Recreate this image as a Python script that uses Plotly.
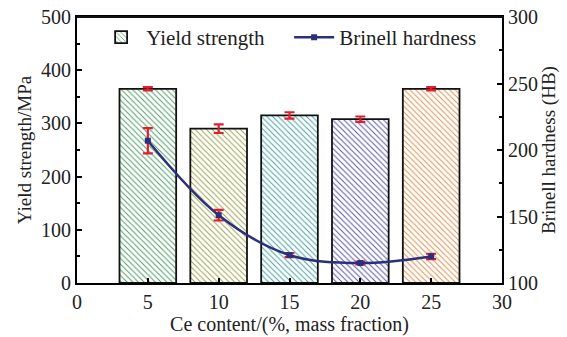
import plotly.graph_objects as go

ce = [5, 10, 15, 20, 25]
yield_strength = [365, 290, 315, 308, 365]
yield_err = [3, 8, 6, 5, 3]
hardness = [207, 151, 121, 115, 120]
hardness_err = [9.5, 4, 1.5, 1, 2]
bar_colors = ["#4f9f63", "#9ea34e", "#45a2a4", "#5656ad", "#e0914f"]

FONT = "Liberation Serif"

fig = go.Figure()
fig.add_trace(go.Bar(
    x=ce, y=yield_strength, width=4, name="Yield strength",
    marker=dict(color="white", line=dict(color="#111", width=1.8),
                pattern=dict(shape="\\", fgcolor=bar_colors, bgcolor="white",
                             size=4, solidity=0.25)),
    error_y=dict(type="data", array=yield_err, color="#e0202c", thickness=2.2, width=5),
))
fig.add_trace(go.Scatter(
    x=ce, y=hardness, yaxis="y2", name="Brinell hardness", mode="lines+markers",
    line=dict(color="#2b2f7c", width=2.5, shape="spline"),
    marker=dict(symbol="square", size=6, color="#2b2f7c"),
    error_y=dict(type="data", array=hardness_err, color="#e0202c", thickness=2.2, width=5),
))

axis_common = dict(showline=True, linecolor="black", linewidth=2, ticks="inside",
                   ticklen=5, tickwidth=2, tickcolor="black", showgrid=False,
                   zeroline=False, automargin=False,
                   tickfont=dict(family=FONT, size=20, color="#222"))

fig.update_layout(
    template="none",
    width=567, height=337,
    margin=dict(l=77, r=65, t=17, b=54, autoexpand=False),
    paper_bgcolor="white", plot_bgcolor="white",
    font=dict(family=FONT, size=20, color="#222"),
    showlegend=True,
    legend=dict(orientation="h", x=0.045, y=1.0, xanchor="left", yanchor="top",
                bgcolor="rgba(0,0,0,0)", font=dict(family=FONT, size=21, color="#222"),
                itemwidth=40, entrywidth=138, tracegroupgap=0),
    xaxis=dict(range=[0, 30], dtick=5, mirror=True,
               title=dict(text="Ce content/(%, mass fraction)", font=dict(family=FONT, size=20), standoff=2),
               **axis_common),
    xaxis2=dict(range=[0, 30], overlaying="x", side="top", showline=True, linecolor="black",
                linewidth=2, ticks="", showticklabels=False, showgrid=False, zeroline=False),
    yaxis=dict(range=[0, 500], dtick=100,
               minor=dict(ticks="inside", ticklen=3, tickwidth=2, dtick=50, tickcolor="black"),
               title=dict(text="Yield strength/MPa", font=dict(family=FONT, size=19), standoff=4),
               **axis_common),
    yaxis2=dict(range=[100, 300], dtick=50, overlaying="y", side="right",
                minor=dict(ticks="inside", ticklen=3, tickwidth=2, dtick=25, tickcolor="black"),
                title=dict(text="Brinell hardness (HB)", font=dict(family=FONT, size=19), standoff=4),
                **axis_common),
    shapes=[dict(type="line", xref="paper", yref="paper", x0=0, x1=1, y0=1, y1=1,
                 line=dict(color="#111111", width=2), layer="above")],
)

fig.write_html("out.html", config={"displayModeBar": False})
